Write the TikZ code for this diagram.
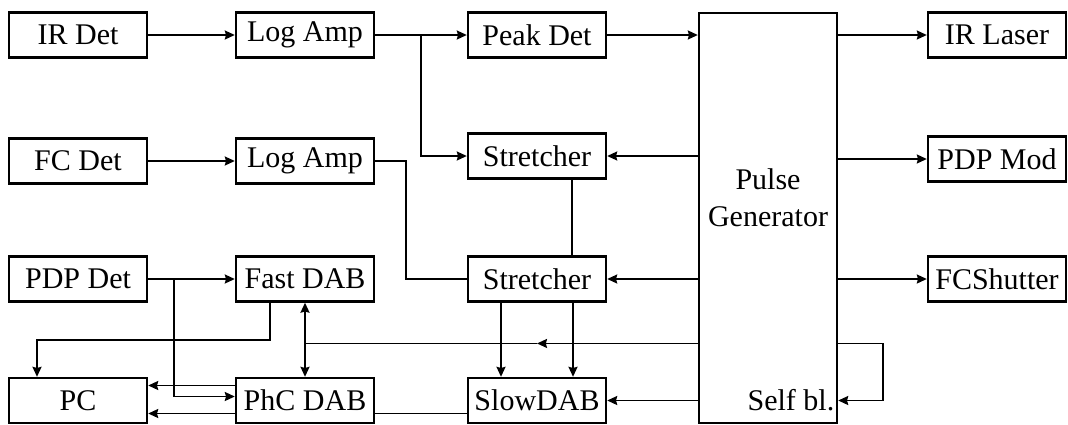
\documentclass[tikz,border=0pt]{standalone}
\usepackage{fontspec}
\setmainfont{Liberation Serif}
\usetikzlibrary{arrows.meta,calc,positioning}

\begin{document}
\begin{tikzpicture}[->,>={Stealth[length=5pt,width=4.5pt,inset=0.6pt]},x=0.5pt,y=-0.5pt,line width=0.9pt,font=\fontsize{15}{18.5}\selectfont]

   \tikzstyle{block}=[draw,line width=1.2pt,minimum width=69pt,minimum height=22.5pt,inner sep=1pt]
   \tikzstyle{plain}=[draw=none,inner sep=1pt]

   \useasboundingbox (0,0) rectangle (1068,424);

   % detectors
   \node[block] (irdet)  at (78,35)    {IR Det};
   \node[block] (fcdet)  at (78,161)   {FC Det};
   \node[block] (pdpdet) at (78,279)   {PDP Det};
   \node[block] (pc)     at (78,400.5) {PC};

   \node[block] (logamp1) at (305,35)    {Log Amp};
   \node[block] (logamp2) at (305,161)   {Log Amp};
   \node[block] (fastdab) at (305,279)   {Fast DAB};
   \node[block] (phcdab)  at (305,400.5) {PhC DAB};

   \node[block] (peakdet)  at (537,35)    {Peak Det};
   \node[block] (stretch1) at (537,156)   {Stretcher};
   \node[block] (stretch2) at (537,279)   {Stretcher};
   \node[block] (slowdab)  at (537,400.5) {SlowDAB};

   % pulse generator
   \node[block,minimum height=205pt] (pulsegen) at (768,218) {};
   \node[plain,align=center] (pgtext) at (768,198) {Pulse\\Generator};
   \node[plain,anchor=east] (selfbl) at ([xshift=-0.5pt]pulsegen.east |- slowdab) {Self bl.};

   \node[block] (irlaser)   at (997,35)  {IR Laser};
   \node[block] (pdpmod)    at (997,159) {PDP Mod};
   \node[block] (fcshutter) at (997,279) {FCShutter};

   % IR channel
   \draw (irdet) -- (logamp1);
   \draw (logamp1) -- (peakdet);
   \coordinate (split1) at ($(logamp1.east)!0.5!(peakdet.west)$);
   \draw (split1) |- (stretch1);
   \draw (peakdet) -- (peakdet -| pulsegen.west);

   % FC channel
   \draw (fcdet) -- (logamp2);
   \draw[-] (logamp2.east) -- ++(31,0) |- (stretch2.west);

   % pulse generator outputs
   \draw (pulsegen.east |- irlaser) -- (irlaser);
   \draw (pulsegen.east |- pdpmod) -- (pdpmod);
   \draw (pulsegen.east |- fcshutter) -- (fcshutter);
   \draw (pulsegen.west |- stretch1) -- (stretch1);
   \draw (pulsegen.west |- stretch2) -- (stretch2);
   \draw (pulsegen.west |- slowdab) -- (slowdab);

   \draw[-] ([xshift=17.5pt]stretch1.south) -- ([xshift=17.5pt]stretch2.north);
   \draw ([xshift=-18pt]stretch2.south) -- ([xshift=-18pt]slowdab.north);
   \draw ([xshift=18pt]stretch2.south) -- ([xshift=18pt]slowdab.north);

   % bus and self blocking
   \coordinate (bus) at ($(fastdab.south)!0.55!(phcdab.north)$);
   \draw (pulsegen.west |- bus) -- (stretch2.south |- bus);
   \draw[-] (stretch2.south |- bus) -- (bus);
   \draw[<->] (fastdab.south) -- (phcdab.north);
   \draw (pulsegen.east |- bus) -- ++(45,0) |- (pulsegen.east |- slowdab);

   % PDP channel
   \draw (pdpdet) -- (fastdab);
   \coordinate (split3) at ($(pdpdet.east)!0.3!(fastdab.west)$);
   \draw (split3) |- ([yshift=2pt]phcdab.west);
   \draw ([xshift=-17.5pt]fastdab.south) -- ++(0,37.5) -| ([xshift=-20.5pt]pc.north);
   \draw ([yshift=7.5pt]phcdab.west) -- ([yshift=7.5pt]pc.east);
   \draw ([yshift=-6.5pt]phcdab.west) -- ([yshift=-6.5pt]pc.east);
   \draw[-] ([yshift=-6.5pt]phcdab.east) -- ([yshift=-6.5pt]slowdab.west);

\end{tikzpicture}
\end{document}
